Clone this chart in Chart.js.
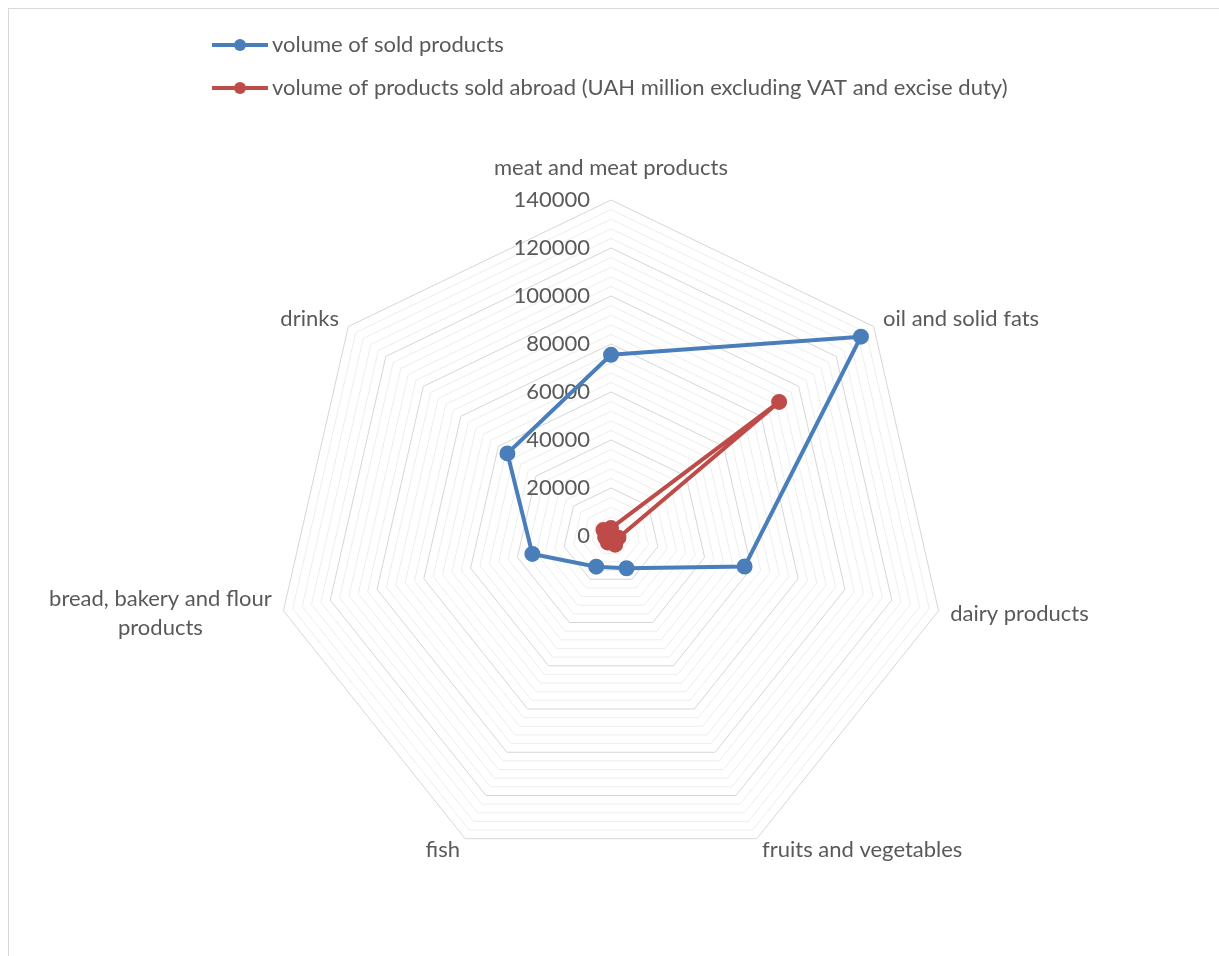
<!DOCTYPE html>
<html>
<head>
<meta charset="utf-8">
<title>Food products sales</title>
<script src="https://cdn.jsdelivr.net/npm/chart.js@4.4.1/dist/chart.umd.min.js"></script>
<style>
  html, body { margin: 0; padding: 0; background: #fff; }
  #wrap { width: 1219px; height: 956px; }
</style>
</head>
<body>
<div id="wrap"><canvas id="radarChart" width="1219" height="956"></canvas></div>
<script>
// categories on the radar spokes
const categories = [
    'meat and meat products',
    'oil and solid fats',
    'dairy products',
    'fruits and vegetables',
    'fish',
    ['bread, bakery and flour', 'products'],
    'drinks'
];

// series
const soldVolume = [75500, 133200, 57100, 14900, 14200, 33600, 55200];
const soldAbroadVolume = [3300, 89600, 3200, 4000, 3000, 2500, 4000];

const seriesNames = [
    'volume of sold products',
    'volume of products sold abroad (UAH million excluding VAT and excise duty)'
];

// labelled rings of the value axis
const tickLabels = [0, 20000, 40000, 60000, 80000, 100000, 120000, 140000];

const textColor = '#595959';
const fontFamily = 'Lato, "Open Sans", sans-serif';
const fontSize = 22;
const blue = '#4a7ebb';
const red = '#be4b48';

document.addEventListener('DOMContentLoaded', function() {

    // frame round the whole chart
    const framePlugin = {
        id: 'frame',
        beforeDraw(chart) {
            const ctx = chart.ctx;
            ctx.save();
            ctx.strokeStyle = '#d9d9d9';
            ctx.lineWidth = 1;
            ctx.strokeRect(8.5, 8.5, chart.width, chart.height);
            ctx.restore();
        }
    };

    // value labels to the left of the vertical spoke
    const tickLabelPlugin = {
        id: 'tickLabels',
        beforeDatasetsDraw(chart) {
            const scale = chart.scales.r;
            const ctx = chart.ctx;
            ctx.save();
            ctx.font = fontSize + 'px ' + fontFamily;
            ctx.fillStyle = textColor;
            ctx.textAlign = 'right';
            ctx.textBaseline = 'middle';
            tickLabels.forEach(function(v) {
                const d = scale.getDistanceFromCenterForValue(v);
                ctx.fillText(String(v), scale.xCenter - 21, scale.yCenter - d);
            });
            ctx.restore();
        }
    };

    // category names outside the outer ring, multi-line names centred as a block
    const categoryLabelPlugin = {
        id: 'categoryLabels',
        afterDraw(chart) {
            const scale = chart.scales.r;
            const ctx = chart.ctx;
            const lineHeight = 29;
            ctx.save();
            ctx.font = fontSize + 'px ' + fontFamily;
            ctx.fillStyle = textColor;
            ctx.textBaseline = 'middle';
            categories.forEach(function(label, i) {
                const lines = Array.isArray(label) ? label : [label];
                let pos = scale.getPointPosition(i, scale.drawingArea + 12);
                const dx = pos.x - scale.xCenter;
                if (Math.abs(dx) < 1) {
                    pos = scale.getPointPosition(i, scale.drawingArea + 32);
                }
                const blockW = Math.max.apply(null, lines.map(function(t) { return ctx.measureText(t).width; }));
                let cx;
                if (dx > 1) cx = pos.x + blockW / 2;
                else if (dx < -1) cx = pos.x - blockW / 2;
                else cx = pos.x;
                ctx.textAlign = 'center';
                const top = pos.y - (lines.length - 1) * lineHeight / 2;
                lines.forEach(function(t, k) {
                    ctx.fillText(t, cx, top + k * lineHeight);
                });
            });
            ctx.restore();
        }
    };

    // legend stacked one item per row
    const stackedLegendPlugin = {
        id: 'stackedLegend',
        afterDraw(chart) {
            const ctx = chart.ctx;
            ctx.save();
            ctx.font = fontSize + 'px ' + fontFamily;
            ctx.textBaseline = 'middle';
            chart.data.datasets.forEach(function(ds, i) {
                const y = 45 + i * 43;
                ctx.strokeStyle = ds.borderColor;
                ctx.lineWidth = 4;
                ctx.beginPath();
                ctx.moveTo(212, y);
                ctx.lineTo(268, y);
                ctx.stroke();
                ctx.fillStyle = ds.pointBackgroundColor;
                ctx.beginPath();
                ctx.arc(240, y, 6, 0, Math.PI * 2);
                ctx.fill();
                ctx.fillStyle = textColor;
                ctx.textAlign = 'left';
                ctx.fillText(ds.label, 272, y);
            });
            ctx.restore();
        }
    };

    const ctx = document.getElementById('radarChart').getContext('2d');
    const radarChart = new Chart(ctx, {
        type: 'radar',
        data: {
            labels: categories,
            datasets: [{
                label: seriesNames[0],
                data: soldVolume,
                borderColor: blue,
                backgroundColor: 'rgba(0,0,0,0)',
                pointBackgroundColor: blue,
                pointBorderColor: blue,
                borderWidth: 4,
                pointRadius: 6,
                fill: false
            }, {
                label: seriesNames[1],
                data: soldAbroadVolume,
                borderColor: red,
                backgroundColor: 'rgba(0,0,0,0)',
                pointBackgroundColor: red,
                pointBorderColor: red,
                borderWidth: 4,
                pointRadius: 6,
                fill: false
            }]
        },
        options: {
            responsive: false,
            animation: false,
            layout: {
                padding: { top: 200, bottom: 84, left: 3, right: 0 }
            },
            plugins: {
                legend: { display: false },
                tooltip: { enabled: false }
            },
            scales: {
                r: {
                    min: 0,
                    max: 140000,
                    beginAtZero: true,
                    angleLines: { display: false },
                    grid: {
                        lineWidth: 1,
                        color: function(c) {
                            return c.tick && c.tick.value % 20000 === 0 ? '#d6d6d6' : '#ededed';
                        }
                    },
                    ticks: {
                        display: false,
                        stepSize: 4000
                    },
                    pointLabels: { display: false }
                }
            }
        },
        plugins: [framePlugin, tickLabelPlugin, categoryLabelPlugin, stackedLegendPlugin]
    });
});
</script>
</body>
</html>
